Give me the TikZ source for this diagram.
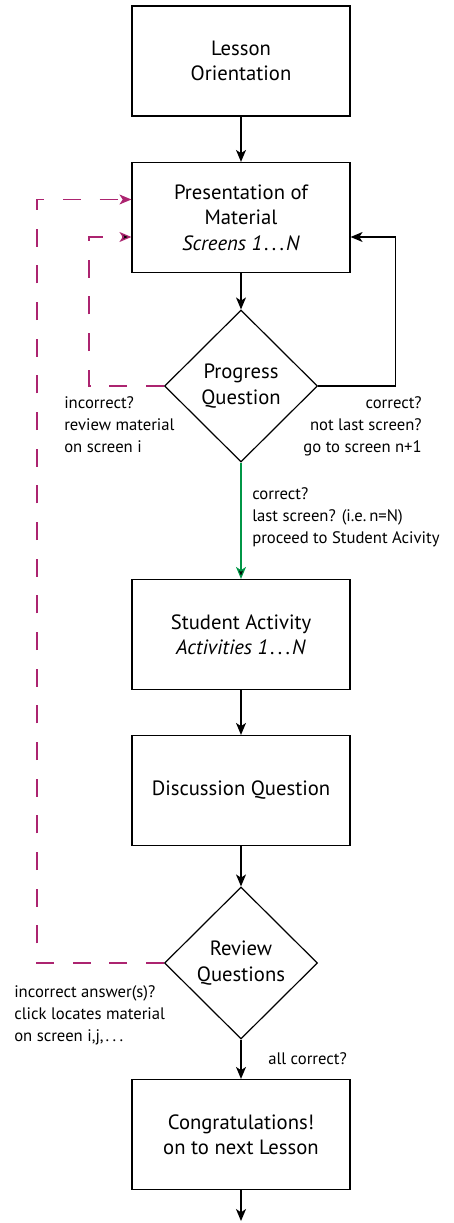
\documentclass[tikz,border=0pt]{standalone}
\usepackage{fontspec}
\setmainfont{PT Sans}
\usetikzlibrary{calc,shapes.geometric,arrows.meta}
\definecolor{backpath}{RGB}{172,36,112}
\definecolor{gopath}{RGB}{0,150,70}
\def\dotrun{\kern1.5pt.\kern2.5pt.\kern2.5pt.\kern1.5pt}
\tikzset{
	stepbox/.style={draw,line width=0.9pt,minimum width=163.5pt,minimum height=82.5pt,align=center,font=\fontsize{15.5}{19}\selectfont},
	askbox/.style={draw,diamond,line width=0.9pt,minimum width=114.75pt,minimum height=114pt,inner sep=0pt,align=center,font=\fontsize{15.5}{19}\selectfont},
	flow/.style={line width=0.9pt,-{Stealth[length=9pt,width=7.5pt,inset=2.5pt]}},
	backflow/.style={backpath,line width=1pt,dash pattern=on 13.5pt off 14pt,-{Stealth[length=9pt,width=7.5pt,inset=2.5pt]}},
	note/.style={align=left,inner sep=0pt,font=\fontsize{12.5}{16.5}\selectfont}
}

\begin{document}
\begin{tikzpicture}[x=0.75pt,y=-0.75pt]
			%%%%% START %%%%%
			\def\xc{241}
			\def\dloop{77}
			\def\dinner{75}
			\def\douter{127}
			\def\dlow{19.5}
			\def\dhigh{-18}
			
			\useasboundingbox (0,0) rectangle (453,1223);
			
			\node[stepbox] (lesson) at (\xc,61) {Lesson\\Orientation};
			\node[stepbox] (present) at (\xc,217.5) {Presentation of\\Material\\\textit{Screens 1\dotrun N}};
			\node[askbox] (progress) at (\xc,386) {Progress\\Question};
			\node[stepbox] (activity) at (\xc,634.5) {Student Activity\\\textit{Activities 1\dotrun N}};
			\node[stepbox] (discuss) at (\xc,790.5) {Discussion Question};
			\node[askbox] (review) at (\xc,963) {Review\\Questions};
			\node[stepbox] (congrats) at (\xc,1134.5) {Congratulations!\\on to next Lesson};
			\coordinate (nextlesson) at (\xc,1221);
			
			\draw[flow] (lesson) -- (present);
			\draw[flow] (present) -- (progress);
			\draw[flow,gopath,-{Stealth[length=9pt,width=7.5pt,inset=2.5pt,fill=black]}] (progress) -- (activity);
			\draw[flow] (activity) -- (discuss);
			\draw[flow] (discuss) -- (review);
			\draw[flow] (review) -- (congrats);
			\draw[flow] (congrats) -- (nextlesson);
			
			\draw[flow] (progress.east) -- ++(\dloop,0) |- ($(present.east)+(0,\dlow)$);
			\draw[backflow,-{Stealth[length=9pt,width=7.5pt,inset=2.5pt,fill=black]}] (progress.west) -- ++(-\dinner,0) |- ($(present.west)+(0,\dlow)$);
			\draw[backflow] (review.west) -- ++(-\douter,0) |- ($(present.west)+(0,\dhigh)$);
			
			\node[note,anchor=north west] (wrongnote) at (64,396) {incorrect?\\review material\\on screen i};
			\node[note,anchor=north east,align=right] (nextnote) at (422,396) {correct?\\not last screen?\\go to screen n+1};
			\node[note,anchor=north west] (lastnote) at (252,487) {correct?\\last screen? (i.e.\,n=N)\\proceed to Student Acivity};
			\node[note,anchor=north west] (reviewnote) at (14,985) {incorrect answer(s)?\\click locates material\\on screen i,j,\dotrun};
			\node[note,anchor=north west] (donenote) at (268,1052) {all correct?};
			%%%%% END %%%%%
\end{tikzpicture}
\end{document}
